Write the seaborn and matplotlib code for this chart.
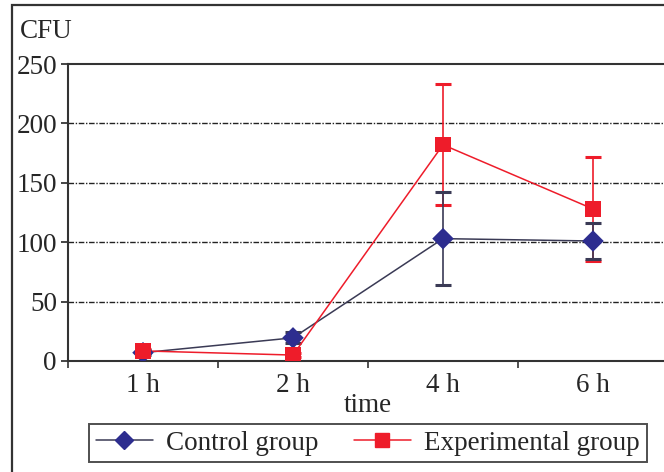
import matplotlib
matplotlib.use("Agg")
import matplotlib.pyplot as plt
from matplotlib.lines import Line2D
from matplotlib.patches import Rectangle
import seaborn as sns
import pandas as pd

times = ["1 h", "2 h", "4 h", "6 h"]
control_mean = [7, 19.5, 103, 101]
control_err = [2, 4.5, 39, 15]
exp_mean = [8.5, 5, 182, 128]
exp_err = [2, 2, 51, 43.5]
groups = ["Control group", "Experimental group"]

sns.set_style("ticks")
plt.rcParams["font.family"] = ["Liberation Serif", "DejaVu Serif"]
plt.rcParams["font.size"] = 19.5

navy = "#2d2d8f"
navy_line = "#3a3a55"
red = "#ee1c2a"

df = pd.DataFrame({
    "time": times * 2,
    "CFU": control_mean + exp_mean,
    "group": [groups[0]] * 4 + [groups[1]] * 4,
})

fig = plt.figure(figsize=(6.64, 4.72), dpi=100)
ax = fig.add_axes([68 / 664, 111 / 472, 600 / 664, 297 / 472])

# error bars first (experimental under control)
ax.errorbar(times, exp_mean, yerr=exp_err, fmt="none", ecolor=red,
            elinewidth=1.2, capsize=6, capthick=2.2, zorder=2)
ax.errorbar(times, control_mean, yerr=control_err, fmt="none", ecolor=navy_line,
            elinewidth=1.2, capsize=6, capthick=2.2, zorder=2.1)

sns.lineplot(data=df, x="time", y="CFU", hue="group",
             palette={groups[0]: navy_line, groups[1]: red},
             linewidth=1.1, legend=False, ax=ax, zorder=3)
sns.scatterplot(data=df, x="time", y="CFU", hue="group", style="group",
                palette={groups[0]: navy, groups[1]: red},
                markers={groups[0]: "D", groups[1]: "s"},
                s=120, linewidth=0, legend=False, ax=ax, zorder=4)

ax.set_xlim(-0.5, 3.5)
ax.set_ylim(0, 250)
ax.set_yticks([0, 50, 100, 150, 200, 250])
for yv in [50, 100, 150, 200]:
    ax.axhline(yv, color="#222222", lw=1.0, ls=(0, (4, 1.2, 1, 1.2)), zorder=1)

ax.set_xticks([-0.5, 0.5, 1.5, 2.5, 3.5])
ax.set_xticklabels([])
ax.set_xticks(range(len(times)), minor=True)
ax.set_xticklabels(times, minor=True)
ax.tick_params(axis="x", which="minor", length=0, pad=9)
ax.tick_params(axis="x", which="major", length=5, width=1.2, direction="out", color="#333333")
ax.tick_params(axis="y", length=5, width=1.2, direction="out", pad=3)
ax.set_xlabel("time", labelpad=-4)
ax.set_ylabel("")
for sp in ax.spines.values():
    sp.set_linewidth(1.5)
    sp.set_color("#333333")

fig.text(20 / 664, 1 - 31 / 472, "CFU", ha="left", va="center")

handles = [
    Line2D([], [], color=navy_line, lw=1.1, marker="D", markersize=9,
           markerfacecolor=navy, markeredgecolor=navy),
    Line2D([], [], color=red, lw=1.1, marker="s", markersize=10.5,
           markerfacecolor=red, markeredgecolor=red),
]
leg = fig.legend(handles, groups, loc="center", ncol=2,
                 bbox_to_anchor=(368 / 664, 1 - 443 / 472),
                 frameon=True, fancybox=False, edgecolor="#222222",
                 handlelength=2.1, handletextpad=0.5, columnspacing=1.3,
                 borderpad=0.25, borderaxespad=0)
leg.get_frame().set_linewidth(1.4)

fig.patches.append(Rectangle((12 / 664, -0.05), 1.1, 1 - 5 / 472 + 0.05,
                             transform=fig.transFigure, fill=False,
                             edgecolor="#333333", lw=1.6))

fig.savefig("out.png", dpi=100)
